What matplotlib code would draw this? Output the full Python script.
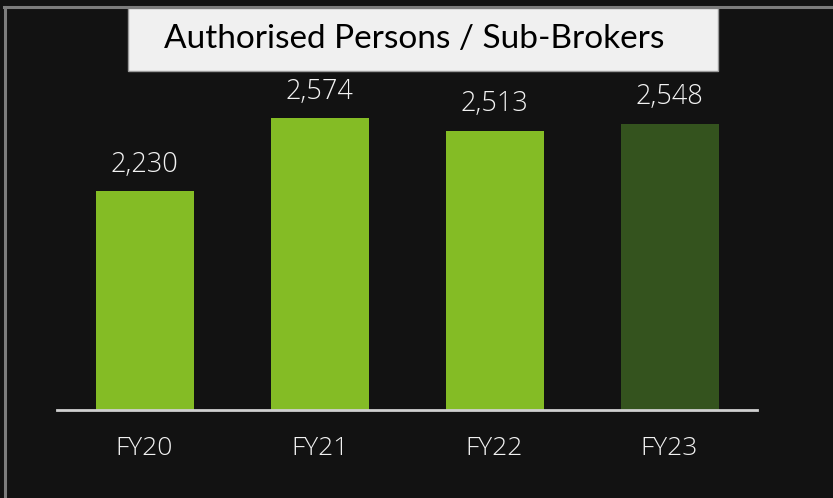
import matplotlib.pyplot as plt
from matplotlib.patches import Rectangle
from matplotlib.lines import Line2D

years = ["FY20", "FY21", "FY22", "FY23"]
persons = [2230, 2574, 2513, 2548]
bar_colors = ["#84bc25", "#84bc25", "#84bc25", "#34531e"]

fig = plt.figure(figsize=(8.33, 4.98), dpi=100)
fig.patch.set_facecolor("#121212")

# gray frame on top and left
fig.add_artist(Line2D([4/833, 1], [1-7/498, 1-7/498], color="#7c7c7c", lw=2.2))
fig.add_artist(Line2D([5/833, 5/833], [0, 1-7/498], color="#7c7c7c", lw=2.2))

ax = fig.add_axes([57/833, 88/498, 700/833, 340/498])
ax.set_facecolor("none")
x = range(len(years))
ax.bar(x, persons, width=0.56, color=bar_colors, zorder=2)
ax.set_xlim(-0.5, 3.5)
ax.set_ylim(1200, 2800)

for xi, v in zip(x, persons):
    ax.annotate("{:,}".format(v), (xi, v), xytext=(0, 9), textcoords="offset points",
                ha="center", va="bottom", color="#f2f2f2", fontsize=19.5,
                family="Open Sans", fontweight="light")

ax.set_xticks(list(x))
ax.set_xticklabels(years, color="#f2f2f2", fontsize=19, family="Open Sans", fontweight="light")
ax.tick_params(axis="x", length=0, pad=19)
ax.set_yticks([])
for s in ["top", "right", "left"]:
    ax.spines[s].set_visible(False)
ax.spines["bottom"].set_color("#d0d0d0")
ax.spines["bottom"].set_linewidth(2)

# title box
fig.add_artist(Rectangle((128/833, 1-71/498), 590/833, 63/498, transform=fig.transFigure,
                         facecolor="#f0f0f0", edgecolor="#9a9a9a", lw=1))
fig.text(414/833, 1-39/498, "Authorised Persons / Sub-Brokers", ha="center", va="center",
         fontsize=24, color="black", family="Lato")

fig.savefig("out.png", dpi=100, facecolor=fig.get_facecolor())
